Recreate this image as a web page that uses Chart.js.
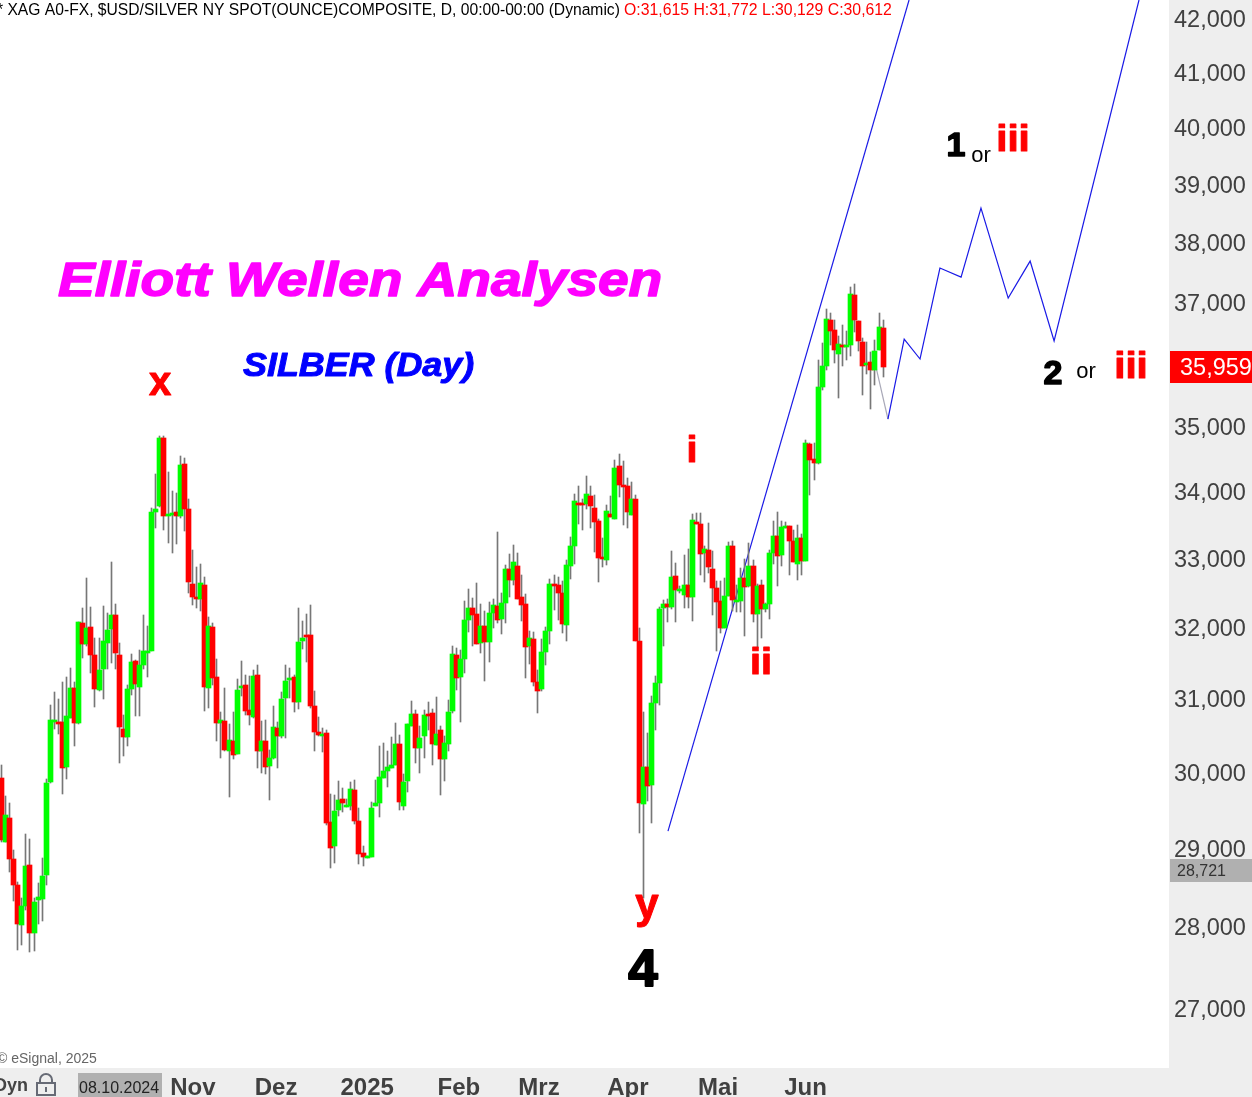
<!DOCTYPE html>
<html>
<head>
<meta charset="utf-8">
<title>Silber Day</title>
<script src="https://cdn.jsdelivr.net/npm/chart.js@4"></script>
<style>
  html, body { margin: 0; padding: 0; background: #fff; overflow: hidden; }
  canvas { display: block; }
</style>
</head>
<body>
<canvas id="grafico" width="1252" height="1097"></canvas>
<script>
const opens = [
  29920,29075,29390,28860,28525,28020,28260,28780,27920,28335,28345,28655,
  29870,30680,30680,30680,30070,30735,31150,30665,32065,31765,32005,31610,
  31120,31415,31780,31980,32180,31610,30585,30475,31135,31525,31160,31470,
  31635,31665,33690,33780,34825,33635,33650,33695,33635,34420,33735,32630,
  32440,32410,32615,31150,32005,31300,30665,30695,30285,30420,30245,31150,
  31190,30845,30750,31330,30285,30420,30080,30190,30595,30490,31010,31260,
  31300,30955,31810,31895,31895,30900,30540,30490,30530,29340,29025,29495,
  29640,29535,29550,29760,29350,28935,28870,28885,29550,29590,29920,30015,
  30055,30095,30380,29550,29880,30625,30790,30325,30490,30790,30805,30365,
  30570,30175,30380,30830,31610,31300,31555,32105,32280,32195,31780,32020,
  31795,32210,32310,32120,32350,32845,32685,32890,32440,32335,31735,31835,
  31230,31135,31650,31950,32630,32615,32495,32035,32890,33185,33825,33825,
  33810,33935,33750,33560,33025,32980,33665,33590,34390,34100,34085,33650,
  33885,31810,29575,30070,29825,30940,31220,32280,32335,32295,32745,32525,
  32465,32615,32440,33545,33515,33080,33125,32845,32570,32380,31995,32450,
  33185,32365,32380,32715,32600,32890,32195,32615,32265,32335,33080,33335,
  33050,33455,33485,33260,32920,33305,32965,34730,34500,34440,35625,35960,
  36705,36545,36150,36300,36265,36300,37115,36690,36350,35975,36025,35895,
  36215,36575
];
const highs = [
  30095,29680,29590,28975,28565,28360,29180,29115,28360,28550,28870,29905,
  30910,31090,30995,31230,31300,31425,31230,32080,32280,32715,32295,31850,
  31850,32310,32210,32950,32335,31780,30775,31190,31625,31540,31680,32180,
  32020,33750,34270,34855,34855,34300,34010,33980,34545,34515,33885,33125,
  32875,32920,32730,32150,32065,31555,30815,31150,30650,30815,31275,31525,
  31330,31315,31400,31470,30695,30705,30295,30900,30680,31090,31470,31425,
  31330,32280,32095,32195,32320,31105,30750,30595,30570,29705,29695,29880,
  29785,29640,29865,29895,29520,29025,28900,29600,29895,30350,30390,30285,
  30475,30665,30500,29975,30650,30965,30845,30625,30845,30955,30860,31020,
  30625,30490,30980,31735,31710,31680,32380,32555,32420,32645,32335,32235,
  32365,32410,33395,32495,32905,33065,33200,33080,32760,32480,31950,31935,
  31400,31835,32005,32700,32760,32730,32670,32980,33320,33965,34085,33885,
  34240,34085,33950,33590,33305,33795,33935,34485,34575,34470,34210,34145,
  33950,31990,30815,30530,31035,31315,32295,32395,32410,33110,32935,32600,
  33050,33140,33665,33680,33680,33185,33530,33110,32670,32670,32715,33245,
  33260,32615,32860,32995,33230,32980,32630,32685,32350,33125,33560,33695,
  33560,33545,33485,33425,33500,33365,34790,34745,34745,36055,36330,36885,
  36820,36705,36445,36625,36525,37250,37300,36690,36415,36350,36185,36380,
  36820,36705
];
const lows = [
  29075,29075,28690,28320,27710,27770,28210,27685,27695,28035,28070,28525,
  29855,30585,30515,29705,29905,30735,30350,30650,31565,31735,31355,30885,
  31105,30995,31415,31495,31415,30120,30215,30350,31050,30760,30760,31415,
  31300,31665,33455,33770,33425,33230,33080,33215,33605,33410,32495,32320,
  32280,32235,30830,30870,31190,30420,30190,30285,29665,30175,30245,31035,
  30775,30640,30735,30055,29990,29975,29625,30175,30055,30460,30460,31010,
  30815,30860,31695,31510,30870,30285,30490,30270,29300,28745,28805,29415,
  29470,29535,29495,29315,28795,28770,28870,28885,29550,29405,29920,29800,
  30055,30095,29495,29495,29735,30625,30120,29990,30190,30570,30095,30365,
  29695,29880,30285,30800,31120,30680,31355,31935,31735,31765,31635,31245,
  31510,31995,32065,31910,32065,32440,32615,32410,32095,31285,31485,31175,
  30805,31105,31470,31765,32250,32105,31920,31810,32700,32920,33515,33425,
  33735,33455,33095,32655,32875,32905,33620,33590,33920,33500,33455,33650,
  31810,29195,28360,29615,29325,30570,30910,31735,32080,32265,32080,32495,
  32280,32280,32095,33515,32760,32655,32790,32180,31665,31920,31995,32450,
  32235,32220,32220,31880,32585,32080,31710,31850,32220,32120,32920,32600,
  32890,33455,32760,32950,32685,32760,32965,33950,34180,34420,35575,35895,
  36300,36005,35450,35960,36055,36120,36510,36200,35495,35835,35275,35655,
  36215,35785
];
const closes = [
  29105,29430,28860,28525,28035,28260,28770,27920,28310,28375,28640,29855,
  30705,30705,30650,30055,30760,31150,30665,32080,31765,31995,31610,31135,
  31400,31810,31965,32180,31635,30610,30475,31135,31510,31205,31470,31665,
  31665,33690,33735,34825,33635,33665,33680,33635,34405,33735,32655,32440,
  32410,32640,31160,32020,31285,30665,30705,30295,30435,30230,31120,31175,
  30830,30775,31315,30285,30420,30070,30190,30610,30490,30995,31245,31285,
  30955,31795,31850,31865,30900,30540,30500,30515,29325,29000,29480,29625,
  29590,29560,29775,29350,28925,28885,28895,29520,29590,29935,30015,30070,
  30095,30380,29600,29865,30650,30790,30325,30460,30775,30760,30380,30515,
  30175,30390,30815,31625,31285,31555,32105,32280,32180,31765,32020,31795,
  32210,32320,32105,32350,32845,32685,32950,32410,32320,31720,31850,31230,
  31105,31650,31950,32630,32600,32495,32050,32905,33185,33855,33795,33795,
  33965,33780,33545,33010,32995,33710,33620,34360,34100,34070,33695,33885,
  31810,29590,30070,29815,30940,31220,32265,32335,32295,32730,32540,32555,
  32615,32440,33575,33515,33065,33140,32875,32570,32365,31995,32450,33185,
  32395,32395,32715,32585,32890,32195,32600,32265,32335,33080,33335,33035,
  33470,33485,33260,32950,33305,32965,34745,34485,34440,35625,35960,36725,
  36525,36215,36315,36265,36300,37135,36705,36365,35960,36010,35895,36200,
  36595,35945
];

// tendencia y proyeccion (indice de vela, precio)
const trendIdx = [164.06, 223.4];
const trendVal = [29221, 42340];
const pathIdx = [218.2, 222.2, 226.1, 231.0, 236.2, 241.1, 247.8, 253.2, 259.1, 280.0];
const pathVal = [35120, 36396, 36073, 37567, 37416, 38586, 37067, 37684, 36364, 42340];
const stubIdx = [215.3, 218.2];
const stubVal = [35929, 35120];

const priceTicks = [27000, 28000, 29000, 30000, 31000, 32000, 33000, 34000, 35000, 36000, 37000, 38000, 39000, 40000, 41000, 42000];
const hiddenTicks = [36000];
const monthIdx = [47.1, 67.6, 90, 112.6, 132.3, 154.2, 176.4, 197.9];
const monthNames = ['Nov', 'Dez', '2025', 'Feb', 'Mrz', 'Apr', 'Mai', 'Jun'];

const SLOT = 65 / 16;
const FONT = '"Liberation Sans", Arial, sans-serif';

const idx = opens.map((_, i) => i);
const toPoints = (xs, ys) => xs.map((x, i) => ({ x: x, y: ys[i] }));

function text(ctx, str, x, y, font, color, align, sx, stroke) {
  ctx.save();
  ctx.translate(x, y);
  ctx.scale(sx || 1, 1);
  ctx.font = font + ' ' + FONT;
  ctx.fillStyle = color;
  ctx.textAlign = align || 'left';
  ctx.textBaseline = 'alphabetic';
  ctx.fillText(str, 0, 0);
  if (stroke) {
    ctx.strokeStyle = color;
    ctx.lineWidth = stroke;
    ctx.lineJoin = 'round';
    ctx.strokeText(str, 0, 0);
  }
  ctx.restore();
}

function noAxisPadding(axis) {
  axis.paddingTop = 0;
  axis.paddingBottom = 0;
  axis.paddingLeft = 0;
  axis.paddingRight = 0;
}

// paneles de los ejes, debajo de todo
const panels = {
  id: 'panels',
  beforeDraw(chart) {
    const ctx = chart.ctx;
    ctx.save();
    ctx.fillStyle = '#ffffff';
    ctx.fillRect(0, 0, 1252, 1097);
    ctx.fillStyle = '#eeeeee';
    ctx.fillRect(1169, 0, 83, 1097);
    ctx.fillRect(0, 1068, 1252, 29);
    ctx.restore();
  }
};

// velas nitidas: ajustar al pixel como el original
const snapBars = {
  id: 'snapBars',
  afterDatasetsUpdate(chart) {
    chart.getSortedVisibleDatasetMetas().forEach(meta => {
      if (meta.type !== 'bar') return;
      meta.data.forEach(el => {
        el.x = Math.floor(el.x) + 0.5;
        el.y = Math.round(el.y);
        el.base = Math.round(el.base);
      });
    });
  }
};

const labels = {
  id: 'labels',
  afterDraw(chart) {
    const ctx = chart.ctx;
    ctx.save();

    text(ctx, '* XAG A0-FX, $USD/SILVER NY SPOT(OUNCE)COMPOSITE, D, 00:00-00:00 (Dynamic)', -3, 15, '15.65px', '#000000');
    text(ctx, 'O:31,615 H:31,772 L:30,129 C:30,612', 624, 15, '15.8px', '#ff0000');

    text(ctx, 'Elliott Wellen Analysen', 58, 296, 'italic bold 48px', '#ff00ff', 'left', 1.146, 1.5);
    text(ctx, 'SILBER (Day)', 243, 376, 'italic bold 34px', '#0000ff', 'left', 1.055, 1);

    text(ctx, 'x', 160, 395, 'bold 40px', '#ff0000', 'center', 1, 1);
    text(ctx, 'y', 647, 918, 'bold 42px', '#ff0000', 'center', 1, 1);
    text(ctx, '4', 643, 986, 'bold 52px', '#000000', 'center', 1.02, 2);
    text(ctx, 'i', 692, 462, 'bold 36px', '#ff0000', 'center', 1.1, 1);
    text(ctx, 'ii', 761, 674, 'bold 36px', '#ff0000', 'center', 1.1, 1);
    text(ctx, '1', 956, 156, 'bold 34px', '#000000', 'center', 1, 1.5);
    text(ctx, 'or', 981, 162, '22px', '#000000', 'center');
    text(ctx, 'iii', 1013, 151, 'bold 36px', '#ff0000', 'center', 1.12, 1);
    text(ctx, '2', 1053, 384, 'bold 34px', '#000000', 'center', 1, 1.5);
    text(ctx, 'or', 1086, 378, '22px', '#000000', 'center');
    text(ctx, 'iii', 1131, 378, 'bold 36px', '#ff0000', 'center', 1.12, 1);

    text(ctx, '\u00a9 eSignal, 2025', -3, 1063, '14px', '#666666');

    // etiquetas de precio
    ctx.fillStyle = '#ff0000';
    ctx.fillRect(1170, 351, 82, 32);
    text(ctx, '35,959', 1180, 375, '23.5px', '#ffffff');
    ctx.fillStyle = '#b0b0b0';
    ctx.fillRect(1170, 859, 82, 23);
    text(ctx, '28,721', 1177, 876, '16px', '#333333');

    // pie: Dyn, candado y fecha
    text(ctx, 'Dyn', -6, 1091, 'bold 18px', '#444444');
    ctx.strokeStyle = '#666a75';
    ctx.lineWidth = 2;
    ctx.strokeRect(37, 1083, 18, 12);
    ctx.beginPath();
    ctx.moveTo(40, 1083);
    ctx.lineTo(40, 1080);
    ctx.arc(46, 1080, 6, Math.PI, 0);
    ctx.lineTo(52, 1083);
    ctx.stroke();
    ctx.fillStyle = '#666a75';
    ctx.fillRect(45, 1087, 2, 5);
    ctx.fillStyle = '#b0b0b0';
    ctx.fillRect(78, 1073, 84, 24);
    text(ctx, '08.10.2024', 79, 1093, '16px', '#222222');

    ctx.restore();
  }
};

new Chart(document.getElementById('grafico').getContext('2d'), {
  data: {
    datasets: [
      {
        type: 'bar',
        label: 'Cuerpo',
        data: idx.map(i => ({ x: i, y: [opens[i], closes[i]] })),
        backgroundColor: idx.map(i => closes[i] >= opens[i] ? '#00ff00' : '#ff0000'),
        barThickness: 5,
        minBarLength: 2,
        order: 0
      },
      {
        type: 'bar',
        label: 'Mecha',
        data: idx.map(i => ({ x: i, y: [lows[i], highs[i]] })),
        backgroundColor: '#777777',
        barThickness: 1,
        order: 1
      },
      {
        type: 'line',
        label: 'Tendencia',
        data: toPoints(trendIdx, trendVal),
        borderColor: '#1a1ae6',
        borderWidth: 1.2,
        pointRadius: 0,
        tension: 0,
        order: 2
      },
      {
        type: 'line',
        label: 'Proyeccion',
        data: toPoints(pathIdx, pathVal),
        borderColor: '#1a1ae6',
        borderWidth: 1.2,
        pointRadius: 0,
        tension: 0,
        order: 2
      },
      {
        type: 'line',
        label: 'Inicio',
        data: toPoints(stubIdx, stubVal),
        borderColor: '#a9a9b8',
        borderWidth: 1.2,
        pointRadius: 0,
        tension: 0,
        order: 3
      }
    ]
  },
  options: {
    responsive: false,
    animation: false,
    layout: { padding: 0 },
    datasets: { bar: { grouped: false } },
    plugins: { legend: { display: false }, tooltip: { enabled: false } },
    scales: {
      x: {
        type: 'linear',
        offset: false,
        min: -1.5 / SLOT,
        max: (1169 - 1.5) / SLOT,
        grid: { display: false, drawTicks: false },
        border: { display: false },
        afterBuildTicks: axis => { axis.ticks = monthIdx.map(v => ({ value: v })); },
        afterFit: axis => { axis.height = 29; noAxisPadding(axis); },
        ticks: {
          autoSkip: false,
          maxRotation: 0,
          padding: 6,
          color: '#404040',
          font: { family: FONT, size: 24, weight: 'bold' },
          callback: v => monthNames[monthIdx.indexOf(v)]
        }
      },
      y: {
        type: 'logarithmic',
        position: 'right',
        min: 26290,
        max: 42340,
        grid: { display: false, drawTicks: false },
        border: { display: false },
        afterBuildTicks: axis => { axis.ticks = priceTicks.map(v => ({ value: v })); },
        afterFit: axis => { axis.width = 83; noAxisPadding(axis); },
        ticks: {
          autoSkip: false,
          padding: 5,
          labelOffset: 2,
          color: '#404040',
          font: { family: FONT, size: 23.5 },
          callback: v => hiddenTicks.includes(v) ? '' : v.toLocaleString('en-US')
        }
      }
    }
  },
  plugins: [panels, snapBars, labels]
});
</script>
</body>
</html>
